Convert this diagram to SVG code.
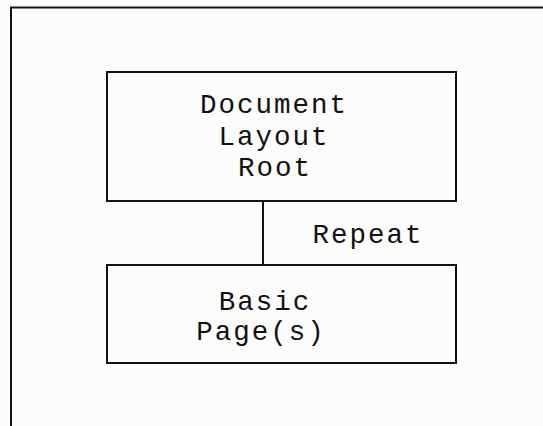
<svg xmlns="http://www.w3.org/2000/svg" width="543" height="426" viewBox="0 0 543 426">
<style>
.box{fill:none;stroke:#111;stroke-width:2}
.t{font-family:"Liberation Mono","Courier New","DejaVu Sans Mono",monospace;font-size:27.5px;letter-spacing:2px;fill:#111;text-anchor:middle}
.c{stroke:#111;stroke-width:2;fill:none}
</style>
<rect x="0" y="0" width="543" height="426" fill="#fcfcfa"/>
<path class="c" d="M11,426 V7.5 H543"/>
<g id="connectors">
<line class="c" x1="263" y1="201" x2="263" y2="265"/>
<text class="t" x="368" y="243">Repeat</text>
</g>
<g id="root">
<rect class="box" x="107" y="72" width="349" height="129"/>
<text class="t" x="274" y="113">Document</text>
<text class="t" x="274" y="145">Layout</text>
<text class="t" x="275" y="176">Root</text>
</g>
<g id="page">
<rect class="box" x="107" y="265" width="349" height="98"/>
<text class="t" x="265" y="310">Basic</text>
<text class="t" x="261" y="340">Page(s)</text>
</g>
</svg>
